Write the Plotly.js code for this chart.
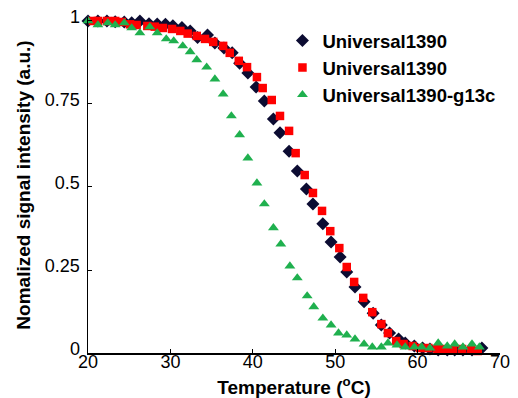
<!DOCTYPE html>
<html><head><meta charset="utf-8">
<script src="https://cdn.plot.ly/plotly-3.0.1.min.js"></script>
<style>html,body{margin:0;padding:0;background:#fff}#chart{width:518px;height:398px}</style>
</head><body><div id="chart"></div>
<script>
// Series 1: Universal1390 (dark diamonds)
var tempA = [20.0,21.2,22.3,23.3,24.4,25.3,26.3,27.4,28.4,29.4,30.3,31.4,32.4,33.3,34.5,35.4,36.5,37.5,38.4,39.4,40.4,41.4,42.5,43.3,44.4,45.4,46.5,47.3,48.5,49.5,50.6,51.4,52.4,53.5,54.6,55.6,56.6,57.7,58.5,59.6,60.6,61.5,62.5,63.6,64.5,65.5,66.6,67.8];
var sigA  = [1.0,1.0,1.0,0.998,0.997,0.995,1.0,0.992,0.991,0.99,0.986,0.98,0.97,0.95,0.958,0.934,0.919,0.904,0.873,0.843,0.801,0.759,0.705,0.663,0.608,0.548,0.494,0.449,0.389,0.334,0.289,0.244,0.199,0.154,0.120,0.084,0.060,0.042,0.030,0.021,0.015,0.012,0.009,0.009,0.009,0.009,0.009,0.015];
// Series 2: Universal1390 (red squares)
var tempB = [20.6,21.2,22.3,23.3,24.1,25.1,25.9,27.2,28.1,29.1,30.2,31.2,32.1,33.2,34.2,35.2,36.4,37.2,38.3,39.3,40.5,41.2,42.3,43.3,44.4,45.2,46.3,47.3,48.4,49.4,50.5,51.4,52.3,53.4,54.5,55.6,56.4,57.4,58.3,59.4,60.3,61.3,62.4,63.3,64.3,65.4,66.5,67.3];
var sigB  = [1.0,1.0,1.0,1.0,0.997,0.99,0.988,0.985,0.983,0.979,0.976,0.970,0.962,0.955,0.946,0.937,0.925,0.904,0.880,0.861,0.831,0.798,0.762,0.714,0.669,0.602,0.536,0.482,0.428,0.367,0.316,0.259,0.214,0.166,0.123,0.087,0.060,0.036,0.027,0.021,0.015,0.015,0.012,0.012,0.009,0.012,0.009,0.006];
// Series 3: Universal1390-g13c (green triangles)
var tempC = [20.0,21.2,22.4,23.3,24.4,25.3,26.3,27.5,28.4,29.5,30.4,31.5,32.4,33.2,34.4,35.4,36.4,37.4,38.4,39.4,40.5,41.4,42.5,43.4,44.5,45.4,46.6,47.4,48.5,49.5,50.4,51.4,52.4,53.5,54.5,55.6,56.4,57.5,58.5,59.6,60.5,61.5,62.5,63.6,64.5,65.5,66.6,67.5];
var sigC  = [1.0,0.988,0.994,0.988,0.994,0.979,0.964,0.982,0.964,0.946,0.940,0.925,0.907,0.883,0.861,0.825,0.780,0.714,0.657,0.587,0.512,0.449,0.377,0.328,0.262,0.226,0.172,0.139,0.105,0.084,0.060,0.054,0.042,0.027,0.018,0.018,0.030,0.024,0.018,0.018,0.018,0.015,0.030,0.021,0.027,0.018,0.027,0.018];

var names = ['Universal1390','Universal1390','Universal1390-g13c'];
var xTicks = [20,30,40,50,60,70];
var yTicks = [0,0.25,0.5,0.75,1];
var yTickText = ['0','0.25','0.5','0.75','1'];

var FONT = 'Arial, "Liberation Sans", sans-serif';
var traces = [
  {x: tempA, y: sigA, name: names[0], mode: 'markers', type: 'scatter', cliponaxis: false,
   marker: {symbol: 'diamond', size: 10, color: '#0c0c32'}},
  {x: tempB, y: sigB, name: names[1], mode: 'markers', type: 'scatter', cliponaxis: false,
   marker: {symbol: 'square', size: 8.5, color: '#ff0000'}},
  {x: tempC, y: sigC, name: names[2], mode: 'markers', type: 'scatter', cliponaxis: false,
   marker: {symbol: 'triangle-up', size: 9.5, color: '#1fb04e'}}
];
var layout = {
  width: 518, height: 398,
  margin: {l: 88, r: 18, t: 17, b: 45},
  paper_bgcolor: '#fff', plot_bgcolor: '#fff',
  font: {family: FONT, color: '#000'},
  showlegend: true,
  legend: {x: 0.472, y: 0.985, xanchor: 'left', yanchor: 'top', bgcolor: 'rgba(0,0,0,0)',
           font: {family: FONT, size: 18.5, color: '#000', weight: 'bold'}, tracegroupgap: 0, itemwidth: 30},
  xaxis: {range: [20, 70], tickvals: xTicks, ticktext: xTicks.map(String), showgrid: false, zeroline: false,
          showline: true, linecolor: '#000', linewidth: 1.5, ticks: 'inside', ticklen: 4, tickcolor: '#000',
          ticklabelstandoff: -8,
          tickfont: {family: FONT, size: 18, color: '#000'},
          title: {text: '<b>Temperature (<sup>o</sup>C)</b>', font: {family: FONT, size: 19, color: '#000'}, standoff: 9}},
  yaxis: {range: [0, 1.012], tickvals: yTicks, ticktext: yTickText, showgrid: false, zeroline: false,
          showline: true, linecolor: '#000', linewidth: 1.5, ticks: 'inside', ticklen: 4, tickcolor: '#000',
          ticklabelshift: -4, ticklabelstandoff: 3,
          tickfont: {family: FONT, size: 18, color: '#000'},
          title: {text: '<b>Nomalized signal intensity (a.u.)</b>', font: {family: FONT, size: 19, color: '#000'}, standoff: 9}}
};
Plotly.newPlot('chart', traces, layout, {displayModeBar: false, staticPlot: true});
</script></body></html>
